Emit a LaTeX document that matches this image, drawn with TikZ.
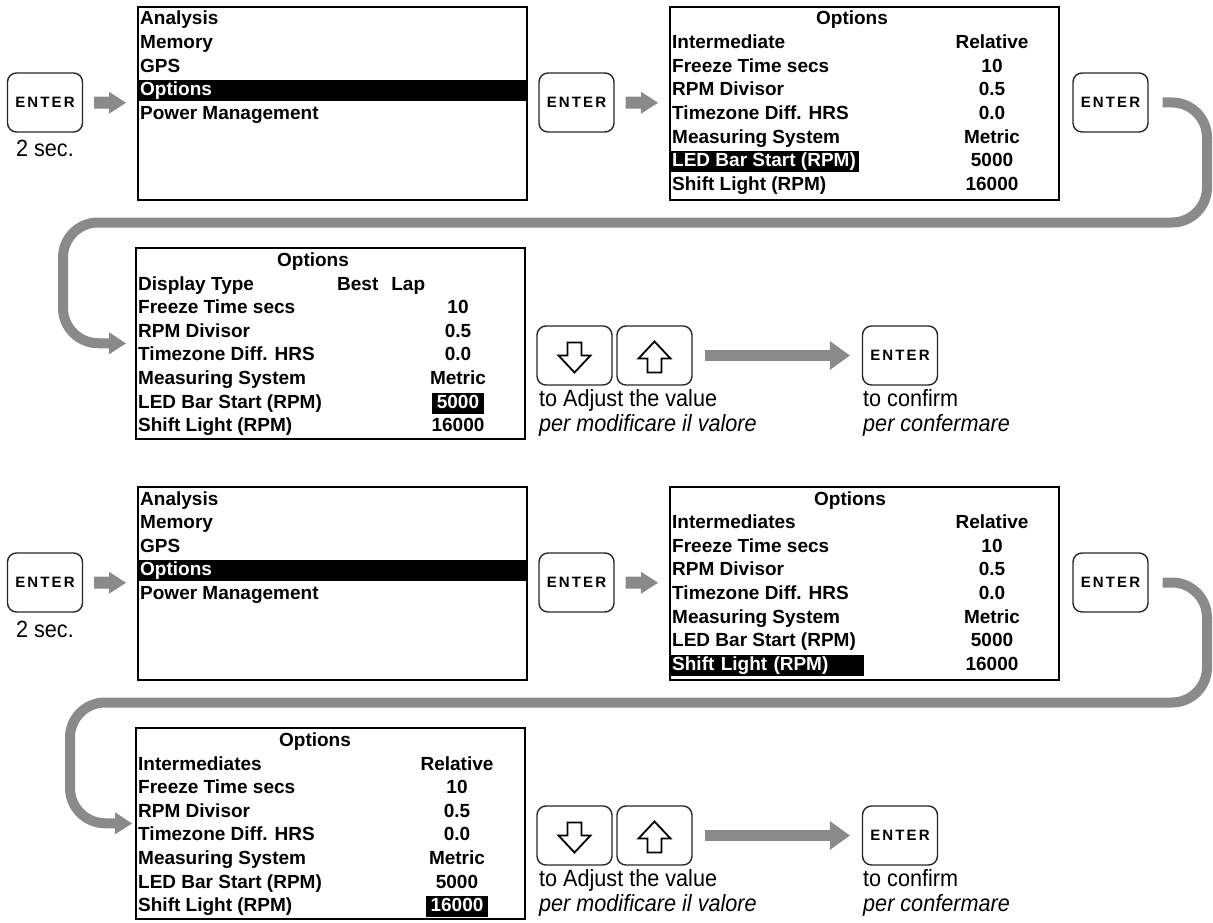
\documentclass[tikz,border=0pt]{standalone}
\usepackage{fontspec}
\setmainfont{Liberation Sans}
\newfontfamily\keyfont[LetterSpace=14]{Liberation Sans}
\newfontfamily\notefont[FakeStretch=0.92]{Liberation Sans}
\usetikzlibrary{arrows.meta}
\definecolor{arrowgray}{RGB}{138,138,138}

\begin{document}
\begin{tikzpicture}[x=1pt,y=-1pt,
  screen/.style={draw=black, line width=2pt, minimum width=389pt, minimum height=193pt, inner sep=0pt, anchor=north west},
  key/.style={draw=black!85, line width=1.4pt, rounded corners=9pt, minimum width=75pt, minimum height=59pt, inner sep=0pt, font=\keyfont\bfseries\fontsize{15}{15}\selectfont},
  row/.style={anchor=base west, inner sep=0pt, text height=14pt, text depth=4pt, font=\bfseries\fontsize{19}{19}\selectfont},
  val/.style={row, anchor=base},
  sel/.style={fill=black, text=white, inner ysep=1.5pt},
  note/.style={anchor=base west, inner sep=0pt, font=\notefont\fontsize{23.5}{23.5}\selectfont},
  flow/.style={draw=arrowgray, line width=12pt, shorten <=11pt, shorten >=11pt, -{Triangle[length=17pt,width=22pt,line width=0pt]}},
  longflow/.style={draw=arrowgray, line width=11pt, shorten <=12pt, shorten >=12pt, -{Triangle[length=20pt,width=29pt,line width=0pt]}},
  loopflow/.style={draw=arrowgray, line width=10pt, rounded corners=35pt, shorten <=14pt, -{Triangle[length=17pt,width=22pt,line width=0pt]}},
  glyph/.style={draw=black, line width=1.8pt, line join=miter}]
\useasboundingbox (0,0) rectangle (1213,923);
% first sequence
\node[key] (k1) at (45,102.5) {ENTER};
\node[note, anchor=base] (t1) at (45,157) {2 sec.};
\node[screen] (s1) at (137,6) {};
\node[row] (s1r1) at (140,25) {Analysis};
\node[row] (s1r2) at (140,48.6) {Memory};
\node[row] (s1r3) at (140,72.2) {GPS};
\node[row, sel, inner xsep=3pt, text width=383pt] (s1r4) at (137,95.8) {Options};
\node[row] (s1r5) at (140,119.4) {Power Management};
\node[key] (k2) at (576.5,102.5) {ENTER};
\node[screen] (s2) at (669,6) {};
\node[val] (s2t) at (852,25) {Options};
\node[row] (s2r1) at (672,48.6) {Intermediate};
\node[val] (s2v1) at (992,48.6) {Relative};
\node[row] (s2r2) at (672,72.2) {Freeze Time secs};
\node[val] (s2v2) at (992,72.2) {10};
\node[row] (s2r3) at (672,95.8) {RPM Divisor};
\node[val] (s2v3) at (992,95.8) {0.5};
\node[row] (s2r4) at (672,119.4) {Timezone Diff. HRS};
\node[val] (s2v4) at (992,119.4) {0.0};
\node[row] (s2r5) at (672,143) {Measuring System};
\node[val] (s2v5) at (992,143) {Metric};
\node[row, sel, inner xsep=3pt] (s2r6) at (669,166.6) {LED Bar Start (RPM)};
\node[val] (s2v6) at (992,166.6) {5000};
\node[row] (s2r7) at (672,190.2) {Shift Light (RPM)};
\node[val] (s2v7) at (992,190.2) {16000};
\node[key] (k3) at (1110.5,102.5) {ENTER};
\node[screen, minimum height=191pt] (s3) at (135,247) {};
\node[val] (s3t) at (313,266.5) {Options};
\node[row] (s3r1) at (138,290.1) {Display Type};
\node[row] (s3v1) at (337,290.1) {Best\hspace{13pt}Lap};
\node[row] (s3r2) at (138,313.7) {Freeze Time secs};
\node[val] (s3v2) at (458,313.7) {10};
\node[row] (s3r3) at (138,337.3) {RPM Divisor};
\node[val] (s3v3) at (458,337.3) {0.5};
\node[row] (s3r4) at (138,360.9) {Timezone Diff. HRS};
\node[val] (s3v4) at (458,360.9) {0.0};
\node[row] (s3r5) at (138,384.5) {Measuring System};
\node[val] (s3v5) at (458,384.5) {Metric};
\node[row] (s3r6) at (138,408.1) {LED Bar Start (RPM)};
\node[val, sel, inner xsep=5pt] (s3v6) at (458,408.1) {5000};
\node[row] (s3r7) at (138,431.7) {Shift Light (RPM)};
\node[val] (s3v7) at (458,431.7) {16000};
\node[key] (dn1) at (574.5,355.5) {};
\node[key] (up1) at (654.5,355.5) {};
\node[key] (k4) at (900,355.5) {ENTER};
\node[note] (t2) at (539,406) {to Adjust the value};
\node[note, font=\notefont\itshape\fontsize{23.5}{23.5}\selectfont] (t3) at (539,431) {per modificare il valore};
\node[note] (t4) at (863,406) {to confirm};
\node[note, font=\notefont\itshape\fontsize{23.5}{23.5}\selectfont] (t5) at (863,431) {per confermare};
\draw[glyph, shift={(dn1.center)}] (-7,-13) -- (7,-13) -- (7,0) -- (16,0) -- (0,17) -- (-16,0) -- (-7,0) -- cycle;
\draw[glyph, shift={(up1.center)}] (0,-14) -- (16,3) -- (7,3) -- (7,17) -- (-7,17) -- (-7,3) -- (-16,3) -- cycle;
\draw[flow] (k1) -- (s1);
\draw[flow] (k2) -- (s2);
\draw[longflow] (up1) -- (k4);
\draw[loopflow, shorten >=9pt] (k3.east) -- (1207,102.5) -- (1207,222.5) -- (63,222.5) -- (63,343) -- (s3.west);
% second sequence
\node[key] (k5) at (45,582.5) {ENTER};
\node[note, anchor=base] (t6) at (45,637) {2 sec.};
\node[screen] (s4) at (137,486) {};
\node[row] (s4r1) at (140,505) {Analysis};
\node[row] (s4r2) at (140,528.6) {Memory};
\node[row] (s4r3) at (140,552.2) {GPS};
\node[row, sel, inner xsep=3pt, text width=383pt] (s4r4) at (137,575.8) {Options};
\node[row] (s4r5) at (140,599.4) {Power Management};
\node[key] (k6) at (576.5,582.5) {ENTER};
\node[screen] (s5) at (669,486) {};
\node[val] (s5t) at (850,505) {Options};
\node[row] (s5r1) at (672,528.6) {Intermediates};
\node[val] (s5v1) at (992,528.6) {Relative};
\node[row] (s5r2) at (672,552.2) {Freeze Time secs};
\node[val] (s5v2) at (992,552.2) {10};
\node[row] (s5r3) at (672,575.8) {RPM Divisor};
\node[val] (s5v3) at (992,575.8) {0.5};
\node[row] (s5r4) at (672,599.4) {Timezone Diff. HRS};
\node[val] (s5v4) at (992,599.4) {0.0};
\node[row] (s5r5) at (672,623) {Measuring System};
\node[val] (s5v5) at (992,623) {Metric};
\node[row] (s5r6) at (672,646.6) {LED Bar Start (RPM)};
\node[val] (s5v6) at (992,646.6) {5000};
\node[row, sel, inner xsep=3pt, text width=189pt] (s5r7) at (669,670.2) {Shift Light (RPM)};
\node[val] (s5v7) at (992,670.2) {16000};
\node[key] (k7) at (1110.5,582.5) {ENTER};
\node[screen, minimum height=191pt] (s6) at (135,727) {};
\node[val] (s6t) at (315,746.5) {Options};
\node[row] (s6r1) at (138,770.1) {Intermediates};
\node[val] (s6v1) at (457,770.1) {Relative};
\node[row] (s6r2) at (138,793.7) {Freeze Time secs};
\node[val] (s6v2) at (457,793.7) {10};
\node[row] (s6r3) at (138,817.3) {RPM Divisor};
\node[val] (s6v3) at (457,817.3) {0.5};
\node[row] (s6r4) at (138,840.9) {Timezone Diff. HRS};
\node[val] (s6v4) at (457,840.9) {0.0};
\node[row] (s6r5) at (138,864.5) {Measuring System};
\node[val] (s6v5) at (457,864.5) {Metric};
\node[row] (s6r6) at (138,888.1) {LED Bar Start (RPM)};
\node[val] (s6v6) at (457,888.1) {5000};
\node[row] (s6r7) at (138,911.7) {Shift Light (RPM)};
\node[val, sel, inner xsep=5pt] (s6v7) at (457,911.7) {16000};
\node[key] (dn2) at (574.5,835.5) {};
\node[key] (up2) at (654.5,835.5) {};
\node[key] (k8) at (900,835.5) {ENTER};
\node[note] (t7) at (539,886) {to Adjust the value};
\node[note, font=\notefont\itshape\fontsize{23.5}{23.5}\selectfont] (t8) at (539,911) {per modificare il valore};
\node[note] (t9) at (863,886) {to confirm};
\node[note, font=\notefont\itshape\fontsize{23.5}{23.5}\selectfont] (t10) at (863,911) {per confermare};
\draw[glyph, shift={(dn2.center)}] (-7,-13) -- (7,-13) -- (7,0) -- (16,0) -- (0,17) -- (-16,0) -- (-7,0) -- cycle;
\draw[glyph, shift={(up2.center)}] (0,-14) -- (16,3) -- (7,3) -- (7,17) -- (-7,17) -- (-7,3) -- (-16,3) -- cycle;
\draw[flow] (k5) -- (s4);
\draw[flow] (k6) -- (s5);
\draw[longflow] (up2) -- (k8);
\draw[loopflow, shorten >=3pt] (k7.east) -- (1207,582.5) -- (1207,702.5) -- (70,702.5) -- (70,823) -- (s6.west);
\end{tikzpicture}
\end{document}
